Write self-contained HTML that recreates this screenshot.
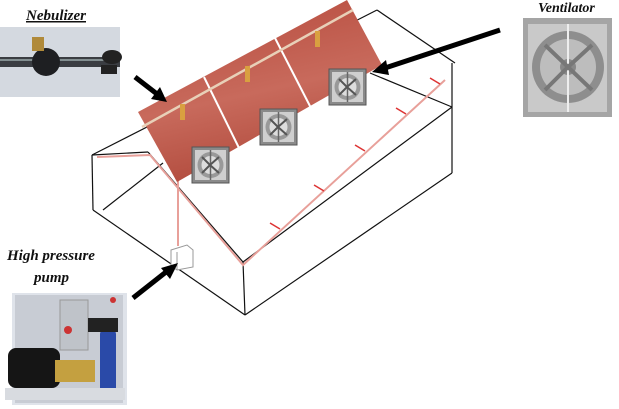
<!DOCTYPE html>
<html><head><meta charset="utf-8"><style>
html,body{margin:0;padding:0;background:#fff;}
svg{display:block;}
text{font-family:"Liberation Serif",serif;font-weight:bold;font-style:italic;fill:#111;}
</style></head><body>
<svg width="619" height="409" viewBox="0 0 619 409" xmlns="http://www.w3.org/2000/svg">
<defs>
<linearGradient id="pan" x1="0" y1="0" x2="0.3" y2="1">
<stop offset="0" stop-color="#b5483a"/><stop offset="0.6" stop-color="#c86a5c"/><stop offset="1" stop-color="#b24c3e"/>
</linearGradient>
<g id="fan">
<rect x="0" y="0" width="37" height="36" fill="#8a8a8a" stroke="#555" stroke-width="1"/>
<rect x="3" y="3" width="31" height="30" fill="#cfcfcf"/>
<circle cx="18.5" cy="18" r="13" fill="#999"/>
<circle cx="18.5" cy="18" r="9" fill="#ddd"/>
<line x1="18.5" y1="3" x2="18.5" y2="33" stroke="#666" stroke-width="1.5"/>
<path d="M10 10 L18 18 L27 10 M10 26 L18 18 L27 26" stroke="#555" stroke-width="2" fill="none"/>
</g>
</defs>

<!-- house wireframe -->
<g stroke="#111" stroke-width="1.2" fill="none">
<line x1="92" y1="155" x2="377" y2="10"/>
<line x1="377" y1="10" x2="455" y2="63"/>
<line x1="452" y1="63" x2="452" y2="173"/>
<line x1="452" y1="107" x2="243" y2="262"/>
<line x1="148" y1="152" x2="243" y2="262"/>
<line x1="92" y1="155" x2="148" y2="152"/>
<line x1="92" y1="155" x2="93" y2="210"/>
<line x1="93" y1="210" x2="245" y2="315"/>
<line x1="243" y1="262" x2="245" y2="315"/>
<line x1="245" y1="315" x2="452" y2="173"/>
<line x1="103" y1="210" x2="163" y2="163"/>
<line x1="370" y1="73" x2="452" y2="107"/>
</g>
<!-- pink pipe -->
<g stroke="#e8a09a" stroke-width="2" fill="none">
<polyline points="97,157 150,155 243,265 445,80"/>
<line x1="178" y1="168" x2="178" y2="246"/>
</g>
<g stroke="#d33" stroke-width="1.5">
<line x1="270" y1="223" x2="280" y2="229"/><line x1="314" y1="185" x2="324" y2="191"/>
<line x1="355" y1="145" x2="365" y2="151"/><line x1="396" y1="108" x2="406" y2="114"/>
<line x1="430" y1="78" x2="440" y2="84"/>
</g>
<!-- pump box -->
<path d="M171 250 L187 245 L193 250 L193 267 L177 270 L171 266 Z" fill="#fff" stroke="#999"/>
<line x1="177" y1="252" x2="177" y2="270" stroke="#999"/>

<!-- panels -->
<polygon points="138,112 347,0 382,65 177,182" fill="url(#pan)"/>
<line x1="204" y1="77" x2="240" y2="150" stroke="#fff" stroke-width="2"/>
<line x1="275" y1="38" x2="312" y2="110" stroke="#fff" stroke-width="2"/>
<line x1="142" y1="127" x2="353" y2="10" stroke="#e8d0b8" stroke-width="2.5"/>
<g fill="#d9a040">
<rect x="180" y="104" width="5" height="16"/><rect x="245" y="66" width="5" height="16"/><rect x="315" y="31" width="5" height="16"/>
</g>
<use href="#fan" x="192" y="147"/>
<use href="#fan" x="260" y="109"/>
<use href="#fan" x="329" y="69"/>

<!-- arrows -->
<g stroke="#000" stroke-width="5">
<line x1="135" y1="77" x2="157" y2="94"/>
<line x1="500" y1="30" x2="385" y2="68"/>
<line x1="133" y1="298" x2="166" y2="272"/>
</g>
<polygon points="167,102 151,99 160,87" fill="#000"/>
<polygon points="372,72 386,60 389,75" fill="#000"/>
<polygon points="178,263 170,279 161,268" fill="#000"/>

<!-- nebulizer photo -->
<rect x="0" y="27" width="120" height="70" fill="#d4d9e0"/>
<rect x="0" y="57" width="120" height="10" fill="#3a3d42"/>
<line x1="0" y1="60" x2="120" y2="60" stroke="#9aa" stroke-width="1.5"/>
<ellipse cx="46" cy="62" rx="14" ry="14" fill="#1e1f22"/>
<rect x="32" y="37" width="12" height="14" fill="#b08a3a"/>
<ellipse cx="112" cy="57" rx="10" ry="7" fill="#222"/>
<rect x="101" y="65" width="16" height="9" fill="#222"/>

<!-- ventilator photo -->
<rect x="523" y="18" width="89" height="99" fill="#a5a5a5"/>
<rect x="528" y="24" width="79" height="88" fill="#c9c9c9"/>
<circle cx="568" cy="67" r="36" fill="#8e8e8e"/>
<circle cx="568" cy="67" r="28" fill="#bdbdbd"/>
<circle cx="568" cy="67" r="8" fill="#888"/>
<line x1="568" y1="24" x2="568" y2="112" stroke="#eee" stroke-width="2"/>
<path d="M545 45 L568 67 L592 45 M545 90 L568 67 L592 90" stroke="#777" stroke-width="4" fill="none"/>

<!-- pump photo -->
<rect x="12" y="293" width="115" height="112" fill="#dfe3ea"/>
<rect x="15" y="295" width="108" height="108" fill="#c8ccd4"/>
<rect x="60" y="300" width="28" height="50" fill="#bfc3c9" stroke="#999"/>
<circle cx="68" cy="330" r="4" fill="#c33"/>
<circle cx="113" cy="300" r="3" fill="#c33"/>
<rect x="100" y="330" width="16" height="62" rx="4" fill="#2a4aa8"/>
<rect x="88" y="318" width="30" height="14" fill="#222"/>
<rect x="8" y="348" width="52" height="40" rx="8" fill="#151515"/>
<rect x="55" y="360" width="40" height="22" fill="#c4a040"/>
<rect x="5" y="388" width="120" height="12" fill="#d8dbe0"/>

<!-- labels -->
<text x="26" y="20" font-size="15" text-decoration="underline">Nebulizer</text>
<text x="538" y="12" font-size="14">Ventilator</text>
<text x="7" y="260" font-size="15">High pressure</text>
<text x="34" y="282" font-size="15">pump</text>
</svg>
</body></html>
